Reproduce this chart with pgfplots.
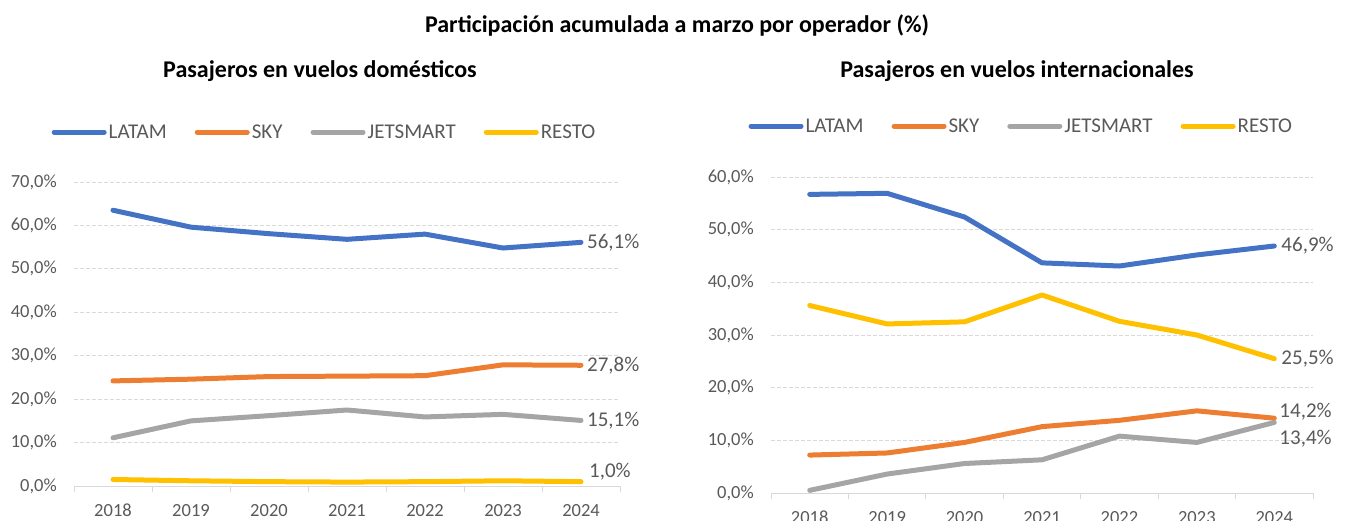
\documentclass[border=0pt]{standalone}
\usepackage{pgfplots}
\pgfplotsset{compat=1.18}
\usepackage{fontspec}
\setmainfont{Carlito}
\definecolor{cLatam}{HTML}{4472C4}
\definecolor{cSky}{HTML}{ED7D31}
\definecolor{cJet}{HTML}{A5A5A5}
\definecolor{cResto}{HTML}{FFC000}
\definecolor{txt}{HTML}{595959}
\definecolor{gridc}{HTML}{D9D9D9}

\tikzset{lbl/.style={font=\fontsize{21}{24}\selectfont, text=txt, anchor=west, inner sep=0pt}}
\pgfplotsset{
  excel/.style={
    scale only axis,
    xmin=-0.5, xmax=6.5, ymin=0,
    xtick={0,...,6},
    xticklabels={2018,2019,2020,2021,2022,2023,2024},
    minor xtick={-0.5,0.5,...,6.5},
    axis x line*=bottom, axis y line*=left,
    x axis line style={draw=gridc, line width=1pt, -},
    y axis line style={draw=none},
    major tick length=0pt,
    minor tick length=6pt,
    tick align=outside,
    minor x tick style={draw=gridc, line width=1pt},
    ymajorgrids,
    grid style={draw=gridc, line width=1pt, dash pattern=on 3.5pt off 2.5pt},
    tick label style={font=\fontsize{18.5}{22}\selectfont, text=txt, inner sep=0pt},
    xticklabel style={anchor=north, yshift=-18pt},
    yticklabel style={anchor=east, xshift=-17pt},
    clip=false,
    legend columns=4,
    legend style={draw=none, fill=none, anchor=center, font=\fontsize{21}{24}\selectfont, text=txt, inner sep=0pt,
       nodes={inner sep=0pt},
       /tikz/every odd column/.append style={column sep=2pt},
       /tikz/every even column/.append style={column sep=28pt}},
    legend image code/.code={\draw[##1, line width=5pt, line cap=round] (2.5pt,0pt) -- (52.5pt,0pt);},
    every axis plot/.append style={line width=5pt, line join=round, line cap=round, mark=none},
  },
}

\begin{document}
\begin{tikzpicture}
\path[use as bounding box] (0,0) rectangle (1347pt,520pt);

\node[font=\fontsize{24}{28}\selectfont\bfseries] at (677pt,495pt) {Participación acumulada a marzo por operador (\%)};
\node[font=\fontsize{24}{28}\selectfont\bfseries] at (320pt,449pt) {Pasajeros en vuelos domésticos};
\node[font=\fontsize{24}{28}\selectfont\bfseries] at (1017pt,449pt) {Pasajeros en vuelos internacionales};

\begin{axis}[excel,
  at={(74pt,34pt)}, anchor=south west,
  width=546pt, height=304pt,
  ymax=70,
  ytick={0,10,...,70},
  yticklabels={{0,0\%},{10,0\%},{20,0\%},{30,0\%},{40,0\%},{50,0\%},{60,0\%},{70,0\%}},
  legend style={at={(0.457,1.164)}},
]
\addplot[cLatam] coordinates {(0,63.5) (1,59.6) (2,58.1) (3,56.8) (4,58.0) (5,54.8) (6,56.1)};
\addlegendentry{LATAM}
\addplot[cSky] coordinates {(0,24.2) (1,24.6) (2,25.2) (3,25.3) (4,25.4) (5,27.9) (6,27.8)};
\addlegendentry{SKY}
\addplot[cJet] coordinates {(0,11.1) (1,15.0) (2,16.2) (3,17.5) (4,15.9) (5,16.5) (6,15.1)};
\addlegendentry{JETSMART}
\addplot[cResto] coordinates {(0,1.5) (1,1.2) (2,1.0) (3,0.9) (4,1.0) (5,1.2) (6,1.0)};
\addlegendentry{RESTO}
\node[lbl, xshift=6pt] at (axis cs:6,56.1) {56,1\%};
\node[lbl, xshift=6pt] at (axis cs:6,27.8) {27,8\%};
\node[lbl, xshift=6pt] at (axis cs:6,15.1) {15,1\%};
\node[lbl, xshift=8pt, yshift=10pt] at (axis cs:6,1.0) {1,0\%};
\end{axis}

\begin{axis}[excel,
  at={(771pt,27pt)}, anchor=south west,
  width=542pt, height=316pt,
  ymax=60,
  ytick={0,10,...,60},
  yticklabels={{0,0\%},{10,0\%},{20,0\%},{30,0\%},{40,0\%},{50,0\%},{60,0\%}},
  legend style={at={(0.460,1.161)}},
]
\addplot[cLatam] coordinates {(0,56.7) (1,56.9) (2,52.4) (3,43.7) (4,43.1) (5,45.2) (6,46.9)};
\addlegendentry{LATAM}
\addplot[cSky] coordinates {(0,7.2) (1,7.6) (2,9.6) (3,12.6) (4,13.8) (5,15.6) (6,14.2)};
\addlegendentry{SKY}
\addplot[cJet] coordinates {(0,0.5) (1,3.6) (2,5.6) (3,6.3) (4,10.8) (5,9.6) (6,13.4)};
\addlegendentry{JETSMART}
\addplot[cResto] coordinates {(0,35.6) (1,32.1) (2,32.5) (3,37.6) (4,32.6) (5,30.0) (6,25.5)};
\addlegendentry{RESTO}
\node[lbl, xshift=7pt] at (axis cs:6,46.9) {46,9\%};
\node[lbl, xshift=7pt] at (axis cs:6,25.5) {25,5\%};
\node[lbl, xshift=5pt, yshift=7pt] at (axis cs:6,14.2) {14,2\%};
\node[lbl, xshift=5pt, yshift=-16pt] at (axis cs:6,13.4) {13,4\%};
\end{axis}
\end{tikzpicture}
\end{document}
